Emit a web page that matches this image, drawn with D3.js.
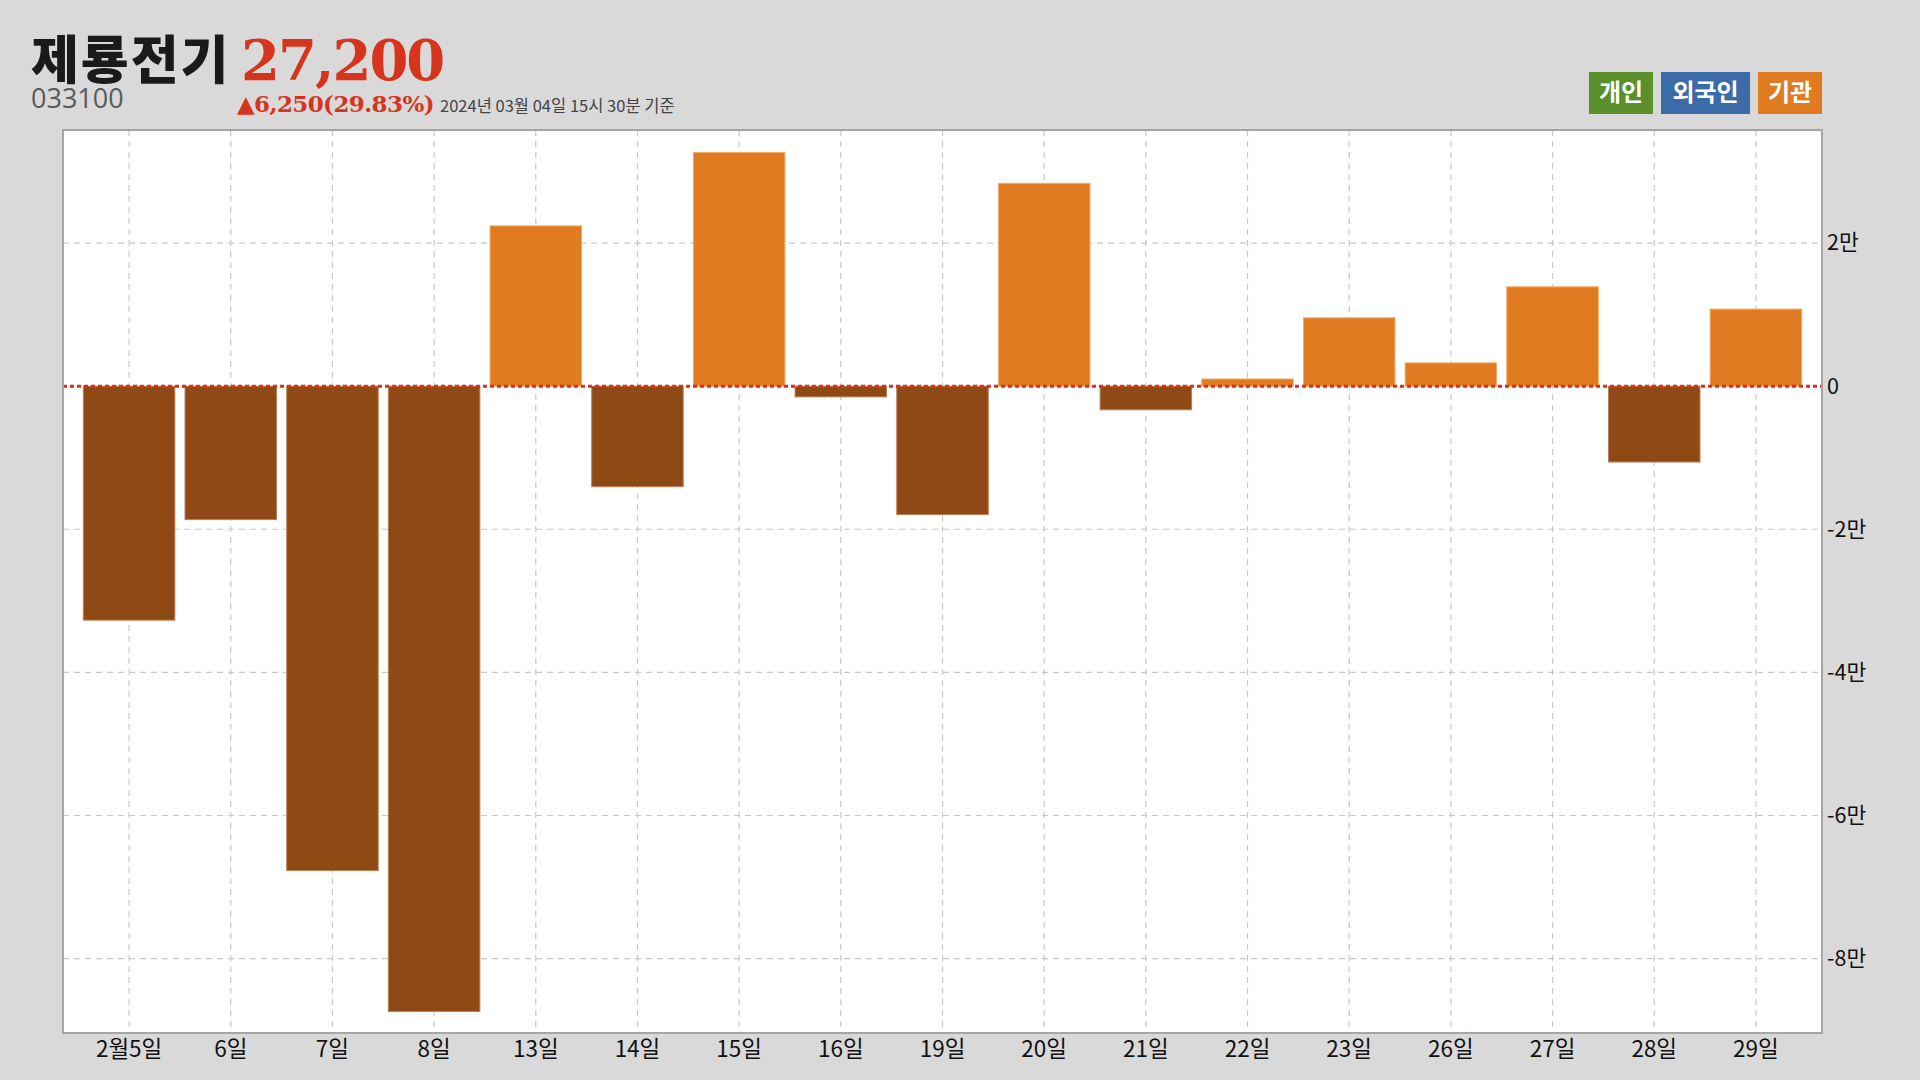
<!DOCTYPE html>
<html>
<head>
<meta charset="utf-8">
<script src="https://cdn.jsdelivr.net/npm/d3@7"></script>
<style>
  html, body { margin: 0; padding: 0; background: #D9D9D9; }
  svg { display: block; }
</style>
</head>
<body>
<svg id="chart" width="1920" height="1080"></svg>
<script>
// ---- data ----
const categories = ["2월5일","6일","7일","8일","13일","14일","15일","16일","19일","20일","21일","22일","23일","26일","27일","28일","29일"];
const institutionValues = [-32700, -18650, -67700, -87400, 22400, -14050, 32650, -1500, -17950, 28350, -3300, 1000, 9550, 3250, 13880, -10600, 10770];
const yTicks = [20000, 0, -20000, -40000, -60000, -80000];
const legendLabels = ["개인", "외국인", "기관"];
const legendColors = ["#5A8F2C", "#3D6BA8", "#E07B22"];
const titleName = "제룡전기";
const titlePrice = "27,200";
const stockCode = "033100";
const changeText = "▲6,250(29.83%)";
const timeText = "2024년 03월 04일 15시 30분 기준";

// ---- layout ----
const plot = { left: 63, right: 1822, top: 130, bottom: 1033 };
const svg = d3.select("#chart");
const KR = "'Noto Sans CJK KR', 'Noto Sans', sans-serif";
const SERIF = "'DejaVu Serif', 'Liberation Serif', serif";

svg.append("rect").attr("width", 1920).attr("height", 1080).attr("fill", "#D9D9D9");

const x = d3.scaleBand().domain(categories).range([plot.left, plot.right])
  .paddingInner(0.10).paddingOuter(0.2);
const y = d3.scaleLinear().domain([-90400, 35800]).range([plot.bottom, plot.top]);

// plot background
svg.append("rect").attr("x", plot.left).attr("y", plot.top)
  .attr("width", plot.right - plot.left).attr("height", plot.bottom - plot.top)
  .attr("fill", "#FFFFFF");

// grid lines
const grid = svg.append("g");
grid.selectAll("line.v").data(categories).enter().append("line")
  .attr("x1", d => x(d) + x.bandwidth() / 2).attr("x2", d => x(d) + x.bandwidth() / 2)
  .attr("y1", plot.top).attr("y2", plot.bottom)
  .attr("stroke", "#C8C8C8").attr("stroke-width", 1.2).attr("stroke-dasharray", "6,5");
grid.selectAll("line.h").data(yTicks.filter(t => t !== 0)).enter().append("line")
  .attr("x1", plot.left).attr("x2", plot.right)
  .attr("y1", d => y(d)).attr("y2", d => y(d))
  .attr("stroke", "#C8C8C8").attr("stroke-width", 1.2).attr("stroke-dasharray", "6,5");

// bars
svg.append("g").selectAll("rect").data(categories).enter().append("rect")
  .attr("x", d => x(d))
  .attr("width", x.bandwidth())
  .attr("y", (d, i) => y(Math.max(0, institutionValues[i])))
  .attr("height", (d, i) => Math.abs(y(institutionValues[i]) - y(0)))
  .attr("fill", (d, i) => institutionValues[i] >= 0 ? "#E07B22" : "#8F4914")
  .attr("stroke", (d, i) => institutionValues[i] >= 0 ? "#EFAA66" : "#B98156")
  .attr("stroke-width", 1);

// zero line
svg.append("line")
  .attr("x1", plot.left).attr("x2", plot.right)
  .attr("y1", y(0)).attr("y2", y(0))
  .attr("stroke", "#D8301E").attr("stroke-width", 3).attr("stroke-dasharray", "4,3");

// plot border
svg.append("rect").attr("x", plot.left).attr("y", plot.top)
  .attr("width", plot.right - plot.left).attr("height", plot.bottom - plot.top)
  .attr("fill", "none").attr("stroke", "#A6A6A6").attr("stroke-width", 2);

// y axis (right)
const yAxis = d3.axisRight(y).tickValues(yTicks).tickSize(0).tickPadding(5)
  .tickFormat(v => v === 0 ? "0" : (v / 10000) + "만");
const gy = svg.append("g").attr("transform", `translate(${plot.right},0)`).call(yAxis);
gy.select(".domain").remove();
gy.selectAll("text").attr("font-family", KR).attr("font-size", 21.5).attr("fill", "#111");

// x axis
const xAxis = d3.axisBottom(x).tickSize(0).tickPadding(8);
const gx = svg.append("g").attr("transform", `translate(0,${plot.bottom})`).call(xAxis);
gx.select(".domain").remove();
gx.selectAll("text").attr("font-family", KR).attr("font-size", 22.5).attr("fill", "#111");

// title
svg.append("text").attr("x", 31).attr("y", 79).text(titleName)
  .attr("font-family", KR).attr("font-weight", 900).attr("font-size", 52).attr("fill", "#1A1A1A")
  .attr("letter-spacing", 2);
svg.append("text").attr("x", 241).attr("y", 80).text(titlePrice)
  .attr("font-family", SERIF).attr("font-weight", 700).attr("font-size", 56).attr("fill", "#D6341C")
  .attr("letter-spacing", -2);
svg.append("text").attr("x", 31).attr("y", 108).text(stockCode)
  .attr("font-family", "'Open Sans', 'Noto Sans', sans-serif").attr("font-size", 27).attr("fill", "#5A5A5A");
svg.append("text").attr("x", 237).attr("y", 112).text(changeText)
  .attr("font-family", SERIF).attr("font-weight", 700).attr("font-size", 23).attr("fill", "#D6341C")
  .attr("letter-spacing", -0.6);
svg.append("text").attr("x", 440).attr("y", 112).text(timeText)
  .attr("font-family", KR).attr("font-size", 16.5).attr("fill", "#444");

// legend
const legendBoxes = [
  { x: 1589, w: 64 },
  { x: 1661, w: 89 },
  { x: 1758, w: 64 }
];
const lg = svg.append("g");
legendLabels.forEach((lab, i) => {
  lg.append("rect").attr("x", legendBoxes[i].x).attr("y", 72)
    .attr("width", legendBoxes[i].w).attr("height", 42).attr("fill", legendColors[i]);
  lg.append("text").attr("x", legendBoxes[i].x + legendBoxes[i].w / 2).attr("y", 93)
    .attr("text-anchor", "middle").attr("dy", "0.35em").text(lab)
    .attr("font-family", KR).attr("font-weight", 700).attr("font-size", 24).attr("fill", "#FFFFFF");
});
</script>
</body>
</html>
